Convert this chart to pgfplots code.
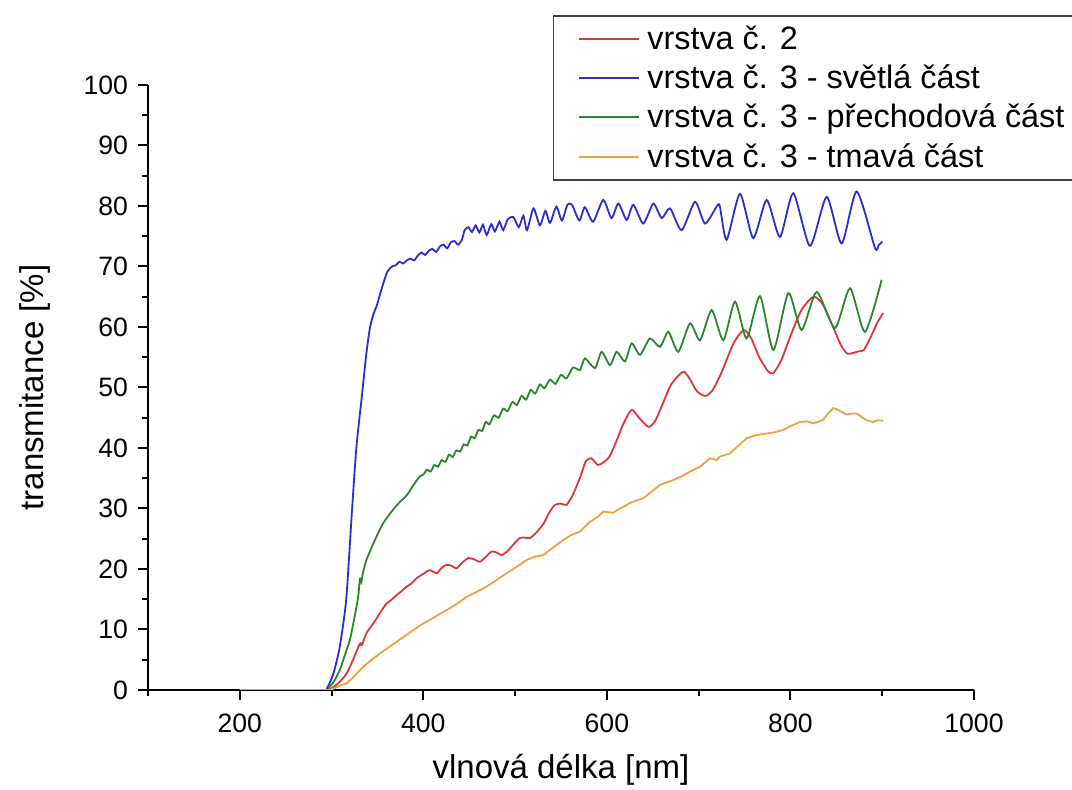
\documentclass[border=0pt]{standalone}
\usepackage{pgfplots}
\pgfplotsset{compat=1.18}
\usepackage{fontspec}
\setmainfont{Liberation Sans}
\definecolor{cRed}{RGB}{222,52,58}
\definecolor{cBlue}{RGB}{45,45,205}
\definecolor{cGreen}{RGB}{40,135,45}
\definecolor{cOrange}{RGB}{240,160,60}
\begin{document}
\begin{tikzpicture}
\useasboundingbox (-74pt,-50pt) rectangle (462pt,345pt);
\begin{axis}[
  at={(0,0)}, anchor=south west,
  scale only axis, width=413pt, height=302.5pt,
  xmin=100, xmax=1000, ymin=0, ymax=100,
  axis lines=left,
  axis line style={-, line width=1pt, black},
  xtick={200,400,...,1000},
  minor xtick={100,300,...,900},
  ytick={0,10,...,100},
  minor ytick={5,15,...,95},
  tick align=outside,
  major tick length=5pt,
  minor tick length=3pt,
  tick style={line width=1pt, black},
  /pgf/number format/assume math mode=true,
  /pgf/number format/1000 sep={},
  tick label style={font=\fontsize{13.3}{15}\selectfont},
  xticklabel style={yshift=-3.5pt},
  yticklabel style={xshift=-1.5pt},
  xlabel={vlnová délka [nm]},
  ylabel={transmitance [\%]},
  xlabel style={font=\fontsize{16.5}{20}\selectfont, at={(axis description cs:0.5,-0.132)}, anchor=center},
  ylabel style={font=\fontsize{16.5}{20}\selectfont, at={(axis description cs:-0.137,0.5)}, anchor=center},
  legend style={at={(axis description cs:0.49,1.1157)}, anchor=north west,
    draw=black!75, line width=0.8pt, fill=white,
    font=\fontsize{16.2}{19.5}\selectfont, inner xsep=6pt, inner ysep=3pt, row sep=2.2pt},
  legend cell align=left,
  legend image code/.code={\path (0pt,0pt); \draw[#1, line width=1pt] (6.5pt,0pt) -- (36.5pt,0pt); \path (38pt,0pt);},
  every axis plot/.append style={line width=0.9pt},
]
\addplot[cRed, smooth, tension=0.4] coordinates {
(200,0) (293,0) (300,0.3) (308,1.2) (316.5,2.75) (324,5.2) (331,7.7) (333,7.4) (338,9.4)
(345.5,11.0) (353,12.8) (360,14.3) (366,15.0) (371,15.7) (376,16.3) (382,17.1) (387,17.6)
(393,18.5) (400,19.2) (407,19.8) (414.6,19.3) (420,20.2) (425.5,20.7) (431,20.5) (436.4,20.1)
(442,21.0) (449,21.8) (455,21.6) (461.7,21.2) (468,22.0) (474.5,22.9) (480,22.7) (485.4,22.3)
(492,23.0) (499,24.2) (505,25.1) (510,25.2) (516,25.1) (523,26.0) (531,27.5) (537,29.3)
(543.5,30.6) (550,30.8) (556,30.6) (563,32.3) (571,35.2) (577,37.8) (583,38.3) (590,37.2)
(596,37.6) (603,38.6) (610,41.0) (618,44.0) (627,46.3) (635,45.0) (645,43.5) (652,44.3)
(660,47.0) (670,50.5) (683,52.6) (690,51.5) (698,49.4) (707,48.6) (715,49.5) (725,52.5)
(738,57.3) (749,59.5) (757,58.2) (766,55.0) (775,52.8) (781,52.3) (790,54.5) (800,58.5)
(812,62.8) (825,65.0) (835,63.8) (845,60.5) (855,57.0) (862,55.6) (868,55.7) (875,56.0)
(880,56.2) (888,58.5) (895,60.8) (901,62.3)
};
\addlegendentry{vrstva č. 2}
\addplot[cBlue, smooth, tension=0.4] coordinates {
(200,0) (290,0) (295,0.3) (302,2.7) (309,7.2) (316,15) (322,29) (327,40) (333,48.5)
(338,55.7) (342,60) (346,62.3) (349,63.4) (353,65.5) (357,67.5) (361,69.2) (366,70)
(370,70.2) (374,70.8) (378,70.5) (382,71) (386,71.3) (390,71.0) (394,71.8) (398,72.3)
(402,71.9) (406,72.6) (410,72.9) (414,72.4) (418,73.3) (422,73.6) (426,73.0) (430,74.0)
(434,74.2) (438,73.6) (442,74.4) (445,76.0) (449,76.5) (453,75.7) (457,76.8) (461,75.6)
(465,76.9) (469,75.2) (474,77.0) (478,75.8) (483,77.4) (487,76.0) (492,77.8) (498,78.2)
(504,76.5) (509,78.4) (513,76.0) (520,79.6) (527,76.8) (533,79.2) (538,77.2) (545,79.9)
(551,77.6) (557,80.2) (562,80.2) (570,77.6) (576,79.8) (585,77.4) (596,81.0) (605,78.0)
(612.5,80.4) (621.6,77.7) (628.8,80.2) (639.7,77.1) (650.6,80.4) (659.7,78.0) (668.8,79.6)
(681.5,76.0) (696,80.7) (706.9,77.1) (719.6,79.9) (723,80) (730.5,74.4) (745,82.0)
(759.5,74.7) (774.1,81.0) (788.6,74.9) (803.1,82.1) (821.3,73.4) (839.5,81.5) (855.8,73.8)
(872.2,82.4) (892.1,73.1) (896,73.5) (900,74.1)
};
\addlegendentry{vrstva č. 3 - světlá část}
\addplot[cGreen, smooth, tension=0.4] coordinates {
(200,0) (292,0) (297,0.4) (303,1.5) (309,3.3) (315,6) (320,8.3) (325,12) (329,15.4)
(331,18.4) (332.5,17.8) (334,19.2) (338,21.5) (345.5,24.2) (351,26) (356,27.5) (362,28.8)
(367,29.8) (374,31) (382,32.2) (389,33.8) (396,35.3) (400,35.6) (404,36.4) (408,36.1)
(412,37.2) (416,36.9) (420,38.0) (424,37.7) (428,38.9) (432,38.5) (436,39.6) (440,39.4)
(444,40.6) (448,40.4) (452,41.9) (456,41.6) (460,43.0) (464,42.8) (468,44.3) (472,43.9)
(477,45.4) (482,45.0) (487,46.5) (492,46.1) (497,47.6) (502,47.1) (507,48.6) (512,48.0)
(517,49.6) (522,49.0) (527,50.5) (532,49.9) (538,51.3) (544,50.6) (550,52.1) (556,51.5)
(563,53.3) (570.7,52.9) (576.1,54.8) (587,53.2) (594.3,55.9) (603.4,53.7) (610.7,55.9)
(619.7,54.3) (627,57.3) (636.1,55.4) (647,58.1) (657.9,56.7) (667,59.2) (677.8,55.9)
(690.6,60.6) (701.5,57.8) (714.2,62.8) (726.9,57.8) (739.6,64.2) (752.3,58.1) (766.8,65.1)
(781.4,56.2) (797.7,65.6) (812.2,59.5) (828.6,65.8) (848.5,59.8) (864.9,66.4) (881.2,59.2)
(899.4,67.8)
};
\addlegendentry{vrstva č. 3 - přechodová část}
\addplot[cOrange] coordinates {
(200,0) (297,0) (302,0.2) (309,0.7) (316.4,1.1) (323,2.0) (331,3.3) (338,4.3) (345.5,5.2)
(354,6.2) (363.7,7.2) (376,8.5) (389,9.9) (398,10.8) (407.2,11.6) (416,12.4) (425.4,13.2)
(436,14.2) (447.2,15.4) (458,16.2) (469,17.1) (480,18.2) (490.8,19.3) (502,20.4) (512.6,21.5)
(521,22.0) (530.7,22.3) (541,23.5) (552.5,24.8) (561,25.6) (570.7,26.2) (581.6,27.8)
(590,28.6) (596.1,29.5) (607,29.3) (612,29.8) (617.9,30.3) (625.2,30.9) (632,31.3)
(639.7,31.7) (648,32.7) (657.9,33.9) (665,34.3) (672.3,34.7) (681,35.3) (690.6,36.1)
(701.5,36.9) (707,37.6) (712.3,38.3) (716,38.2) (719.6,38.0) (723.2,38.6) (728,38.8)
(734.1,39.1) (742,40.2) (752.3,41.6) (762,42.1) (774.1,42.4) (783,42.6) (792.3,43.0)
(800,43.6) (810.4,44.3) (818,44.4) (825,44.1) (830,44.3) (835.8,44.7) (842,45.9)
(846.7,46.6) (852,46.3) (861.3,45.5) (866,45.7) (872.2,45.7) (877,45.2) (883,44.6)
(890.3,44.3) (895,44.6) (901.2,44.5)
};
\addlegendentry{vrstva č. 3 - tmavá část}
\end{axis}
\end{tikzpicture}
\end{document}
